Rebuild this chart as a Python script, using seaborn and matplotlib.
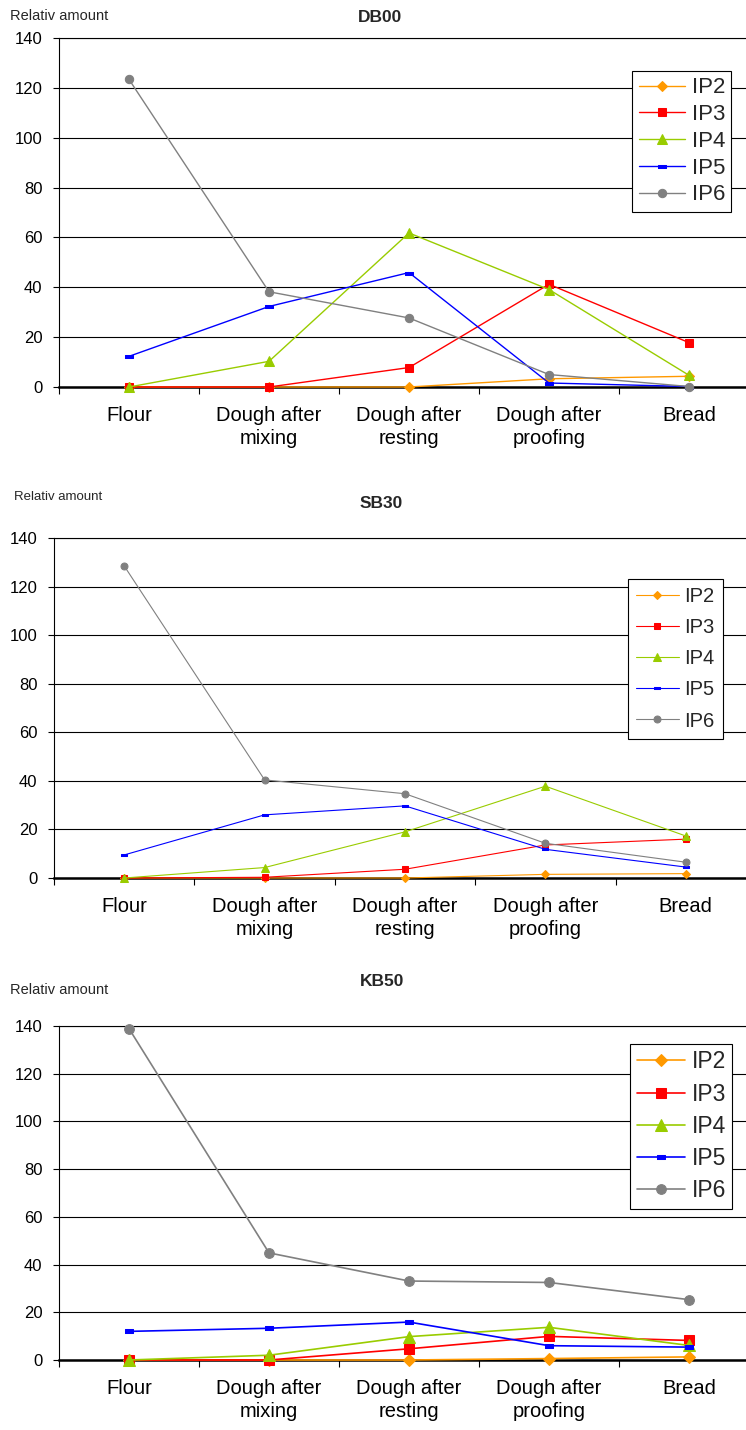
import numpy as np
import pandas as pd
import matplotlib
matplotlib.use("Agg")
import matplotlib.pyplot as plt
import seaborn as sns

# --- data ---
stages = ["Flour", "Dough after\nmixing", "Dough after\nresting",
          "Dough after\nproofing", "Bread"]
series_names = ["IP2", "IP3", "IP4", "IP5", "IP6"]
y_ticks = [0, 20, 40, 60, 80, 100, 120, 140]

db00_ip2 = [0, 0, 0, 3.3, 4.3]
db00_ip3 = [0, 0, 7.8, 41.2, 17.8]
db00_ip4 = [0, 10.3, 61.8, 39.1, 4.7]
db00_ip5 = [12.3, 32.3, 45.9, 1.6, 0.2]
db00_ip6 = [123.4, 38.2, 27.7, 5.0, 0.2]

sb30_ip2 = [0, 0, 0, 1.5, 1.8]
sb30_ip3 = [0, 0.3, 3.6, 13.6, 16.0]
sb30_ip4 = [0, 4.3, 19.0, 37.8, 17.3]
sb30_ip5 = [9.5, 26.0, 29.7, 11.8, 4.5]
sb30_ip6 = [128.5, 40.4, 34.7, 14.3, 6.5]

kb50_ip2 = [0, 0, 0, 0.6, 1.3]
kb50_ip3 = [0, 0, 4.7, 9.9, 8.2]
kb50_ip4 = [0, 2.0, 9.8, 13.7, 6.1]
kb50_ip5 = [12.0, 13.3, 15.9, 6.0, 5.4]
kb50_ip6 = [138.9, 44.9, 33.1, 32.5, 25.3]

# --- styles ---
colors = {"IP2": "#FF9900", "IP3": "#FF0000", "IP4": "#99CC00",
          "IP5": "#0000FF", "IP6": "#808080"}
dash_marker = [(-1, -0.4), (1, -0.4), (1, 0.4), (-1, 0.4), (-1, -0.4)]
markers = {"IP2": "D", "IP3": "s", "IP4": "^", "IP5": dash_marker, "IP6": "o"}
marker_scale = {"IP2": 0.85, "IP3": 1.0, "IP4": 1.15, "IP5": 0.9, "IP6": 1.0}

sns.set_theme(style="white")
plt.rcParams['font.family'] = ['Liberation Sans', 'DejaVu Sans']

W, H = 746, 1430
fig = plt.figure(figsize=(W / 100, H / 100), dpi=100)


def fx(px):
    return px / W


def fy(px):
    return 1 - px / H


panels = [
    dict(title="DB00", data=[db00_ip2, db00_ip3, db00_ip4, db00_ip5, db00_ip6],
         left=59, right=759, top=38, bottom=387,
         title_xy=(380, 18), ylab_xy=(10, 16), ylab_fs=10.5, title_fs=12.5,
         leg_anchor=(0.819, 0.905), leg_fs=16, leg_ls=0.26, leg_bp=0.28,
         ms=6.0, lw=1.0),
    dict(title="SB30", data=[sb30_ip2, sb30_ip3, sb30_ip4, sb30_ip5, sb30_ip6],
         left=54, right=756, top=538, bottom=878,
         title_xy=(381, 504), ylab_xy=(14, 497), ylab_fs=9.5, title_fs=12.5,
         leg_anchor=(0.818, 0.879), leg_fs=14.5, leg_ls=0.6, leg_bp=0.4,
         ms=5.0, lw=0.8),
    dict(title="KB50", data=[kb50_ip2, kb50_ip3, kb50_ip4, kb50_ip5, kb50_ip6],
         left=59, right=759, top=1026, bottom=1360,
         title_xy=(382, 982), ylab_xy=(10, 990), ylab_fs=10.5, title_fs=12.5,
         leg_anchor=(0.816, 0.946), leg_fs=16.5, leg_ls=0.4, leg_bp=0.28,
         ms=7.0, lw=1.2),
]

for p in panels:
    ax = fig.add_axes([fx(p["left"]), fy(p["bottom"]),
                       fx(p["right"] - p["left"]), (p["bottom"] - p["top"]) / H])
    pos = np.arange(len(stages))
    df = pd.DataFrame({
        "pos": np.tile(pos, len(series_names)),
        "value": np.concatenate(p["data"]),
        "series": np.repeat(series_names, len(stages)),
    })
    for name in series_names:
        sub = df[df["series"] == name]
        sns.lineplot(data=sub, x="pos", y="value", ax=ax, errorbar=None,
                     color=colors[name], marker=markers[name],
                     markersize=p["ms"] * marker_scale[name],
                     markeredgecolor=colors[name], markerfacecolor=colors[name],
                     linewidth=p["lw"], label=name, clip_on=False, zorder=3)

    ax.set_xlim(-0.5, len(stages) - 0.5)
    ax.set_ylim(0, 140)
    ax.set_yticks(y_ticks)
    ax.set_xticks(pos)
    ax.set_xticklabels(stages, linespacing=1.22)
    ax.set_xticks(np.arange(-0.5, len(stages), 1.0), minor=True)
    ax.set_xlabel("")
    ax.set_ylabel("")
    ax.yaxis.grid(True, color="black", linewidth=0.8)
    ax.xaxis.grid(False)
    ax.set_axisbelow(True)

    ax.tick_params(axis="x", which="major", length=0, pad=14,
                   labelsize=14.5, labelcolor="black")
    ax.tick_params(axis="x", which="minor", length=5, width=0.8,
                   direction="out", color="black", bottom=True)
    ax.tick_params(axis="y", length=4, width=0.8, direction="out", left=True,
                   color="black", pad=8, labelsize=12, labelcolor="black")

    for side in ["left", "top"]:
        ax.spines[side].set_color("black")
        ax.spines[side].set_linewidth(0.8)
    ax.spines["bottom"].set_color("black")
    ax.spines["bottom"].set_linewidth(1.8)
    ax.spines["right"].set_visible(False)

    leg = ax.legend(loc="upper left", bbox_to_anchor=p["leg_anchor"],
                    borderaxespad=0, frameon=True, fancybox=False,
                    fontsize=p["leg_fs"], labelspacing=p["leg_ls"],
                    handlelength=2.1, handletextpad=0.3, borderpad=p["leg_bp"])
    leg.get_frame().set_edgecolor("black")
    leg.get_frame().set_linewidth(0.8)
    leg.get_frame().set_alpha(1)

    fig.text(fx(p["title_xy"][0]), fy(p["title_xy"][1]), p["title"],
             ha="center", va="center", fontsize=p["title_fs"], fontweight="bold")
    fig.text(fx(p["ylab_xy"][0]), fy(p["ylab_xy"][1]), "Relativ amount",
             ha="left", va="center", fontsize=p["ylab_fs"])

fig.savefig("out.png", dpi=100, facecolor="white")
